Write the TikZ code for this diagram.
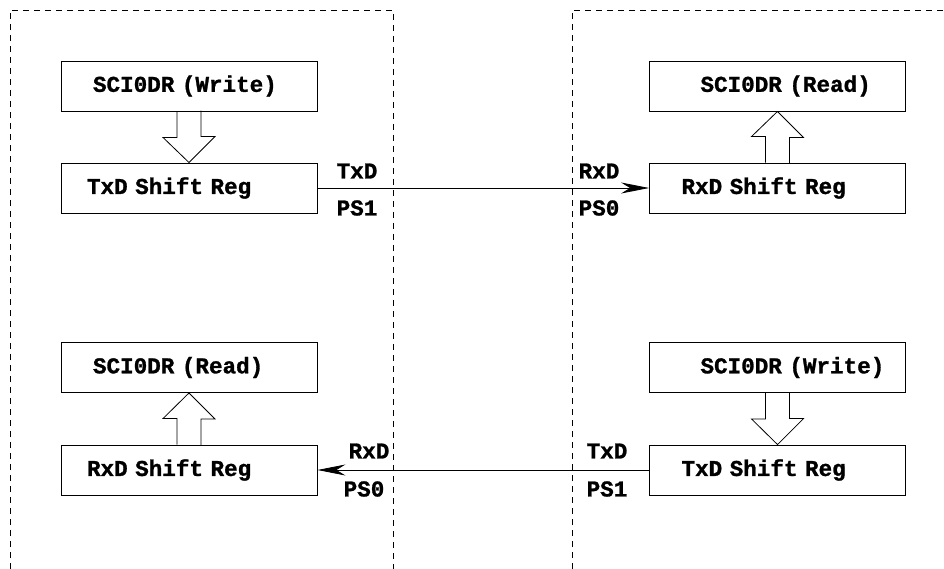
\documentclass[tikz,border=0pt]{standalone}
\usepackage{fontspec}
\setmonofont{Liberation Mono}[BoldFeatures={FakeBold=1.2}]
\usetikzlibrary{arrows.meta,calc}
\newcommand{\regfont}{\ttfamily\bfseries\fontsize{22.6}{24}\selectfont}
\begin{document}
\begin{tikzpicture}[x=1pt,y=-1pt,
  regbox/.style={draw,line width=0.9pt,minimum height=50pt,text width=256pt,inner xsep=0pt,inner ysep=0pt,align=left,font=\regfont},
  lbl/.style={font=\regfont,inner sep=0pt},
  frame/.style={line width=0.8pt,dash pattern=on 6pt off 5pt},
  wire/.style={line width=0.8pt,-{Stealth[length=28pt,width=11pt,inset=9pt]}},
  hollow/.style={line width=0.8pt}]
\useasboundingbox (0,0) rectangle (944,569);
% frames
\draw[frame] (10,569) -- (10,10) -- (393,10) -- (393,569);
\draw[frame] (572,569) -- (572,10) -- (944,10);
% left top
\node[regbox] (w1) at (189,86) {\hspace*{32pt}SCI0DR (Write)};
\node[regbox] (t1) at (189,188) {\hspace*{26pt}TxD Shift Reg};
% right top
\node[regbox] (r1) at (777.5,86) {\hspace*{51pt}SCI0DR (Read)};
\node[regbox] (x1) at (777.5,188) {\hspace*{32pt}RxD Shift Reg};
% left bottom
\node[regbox] (r2) at (189,367.5) {\hspace*{32pt}SCI0DR (Read)};
\node[regbox] (x2) at (189,470) {\hspace*{26pt}RxD Shift Reg};
% right bottom
\node[regbox] (w2) at (777.5,367.5) {\hspace*{51pt}SCI0DR (Write)};
\node[regbox] (t2) at (777.5,470) {\hspace*{32pt}TxD Shift Reg};
% hollow arrows
\draw[hollow] ($(w1.south)+(-12,0)$) -- ++(0,26) -- ++(-14,0) -- (t1.north) -- ++(26,-26) -- ++(-14,0) -- ++(0,-26);
\draw[hollow] ($(w2.south)+(-12,0)$) -- ++(0,26) -- ++(-14,0) -- (t2.north) -- ++(26,-26) -- ++(-14,0) -- ++(0,-26);
\draw[hollow] ($(x1.north)+(-12,0)$) -- ++(0,-26) -- ++(-14,0) -- (r1.south) -- ++(26,26) -- ++(-14,0) -- ++(0,26);
\draw[hollow] ($(x2.north)+(-12,0)$) -- ++(0,-26) -- ++(-14,0) -- (r2.south) -- ++(26,26) -- ++(-14,0) -- ++(0,26);
% wires
\draw[wire] (t1.east) -- (x1.west);
\draw[wire] (t2.west) -- (x2.east);
% labels
\node[lbl] (l1) at (357,171) {TxD};
\node[lbl] (l2) at (357,208) {PS1};
\node[lbl] (l3) at (599,171) {RxD};
\node[lbl] (l4) at (599,208) {PS0};
\node[lbl] (l5) at (369,451) {RxD};
\node[lbl] (l6) at (364,489) {PS0};
\node[lbl] (l7) at (607,451) {TxD};
\node[lbl] (l8) at (607,489) {PS1};
\end{tikzpicture}
\end{document}
